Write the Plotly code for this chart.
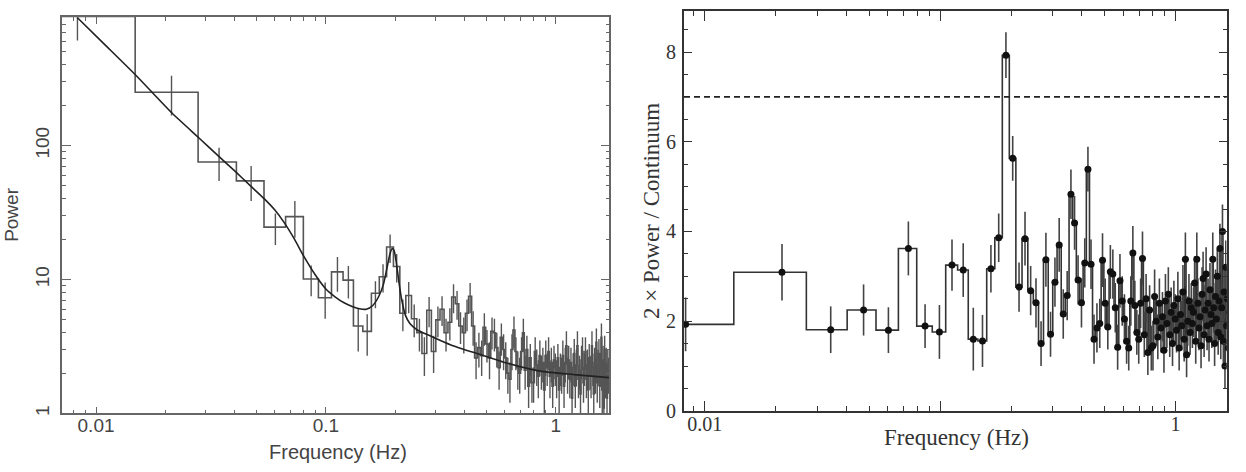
import numpy as np
import plotly.graph_objects as go

# ---------------- data ----------------
f0 = 0.0083      # first frequency bin centre (Hz)
df = 0.013       # frequency bin width (Hz)

power = [
    920, 250, 75.5, 54.5, 24.6, 29.5, 10.1, 7.3, 11.4, 9.9,
    4.5, 4.1, 7.9, 10.5, 17.5, 12.5, 5.6, 7.6, 5.1, 4.0,
    2.8, 5.9, 2.9, 5.0, 6.0, 4.0, 4.8, 7.4, 6.6, 4.5,
    4.0, 5.6, 7.5, 4.5, 2.6, 3.1,
    2.7, 4.4, 3.3, 2.6, 4.1, 4.0, 3.1, 2.2, 3.7, 3.0,
    2.6, 2.0, 1.8, 3.0, 4.2, 2.9, 2.2, 2.0, 2.9, 4.0,
    2.1, 3.0, 1.6, 2.6, 1.7, 1.7, 2.9, 2.3, 1.9, 2.7,
    2.1, 2.4, 1.5, 2.7, 2.2, 2.9, 1.9, 2.4, 1.6, 2.5,
    2.2, 1.9, 2.6, 1.5, 2.2, 2.0, 2.7, 1.6, 2.4, 3.2,
    2.0, 2.5, 1.8, 2.4, 1.3, 2.2, 2.8, 1.6, 2.3, 3.2,
    1.8, 2.1, 1.4, 2.5, 2.9, 1.7, 2.2, 2.9, 1.8, 2.3,
    1.5, 2.6, 2.1, 1.9, 3.2, 2.2, 1.4, 2.4, 2.0, 3.4,
    1.7, 2.3, 2.8, 1.6, 2.2, 3.7, 1.5, 2.5, 1.1, 3.0,
    1.8, 2.4, 1.3, 2.3, 2.0,
]
power_err = [
    310, 82, 21, 16, 6.5, 9, 2.6, 2.2, 3.3, 2.7,
    1.6, 1.4, 1.8, 2.5, 4.2, 3.0, 1.5, 2.0, 1.4, 1.1,
    0.9, 1.5, 0.9, 1.3, 1.5, 1.1, 1.3, 1.8, 1.6, 1.2,
    1.2, 1.5, 1.9, 1.3, 0.8, 0.9,
    0.8, 1.2, 0.9, 0.8, 1.1, 1.1, 0.9, 0.7, 1.0, 0.9,
    0.8, 0.6, 0.6, 0.9, 1.1, 0.8, 0.7, 0.6, 0.8, 1.1,
    0.6, 0.8, 0.5, 0.7, 0.5, 0.5, 0.8, 0.7, 0.6, 0.8,
    0.6, 0.7, 0.5, 0.8, 0.6, 0.8, 0.6, 0.7, 0.5, 0.7,
    0.6, 0.6, 0.7, 0.5, 0.6, 0.6, 0.8, 0.5, 0.7, 0.9,
    0.6, 0.7, 0.5, 0.7, 0.4, 0.6, 0.8, 0.5, 0.7, 0.9,
    0.5, 0.6, 0.4, 0.7, 0.8, 0.5, 0.6, 0.8, 0.5, 0.7,
    0.5, 0.7, 0.6, 0.6, 0.9, 0.6, 0.4, 0.7, 0.6, 0.9,
    0.5, 0.7, 0.8, 0.5, 0.6, 1.0, 0.5, 0.7, 0.4, 0.8,
    0.5, 0.7, 0.4, 0.7, 0.6,
]
ratio = [
    1.93, 3.09, 1.81, 2.25, 1.80, 3.62, 1.89, 1.76, 3.25, 3.14,
    1.60, 1.56, 3.17, 3.86, 7.93, 5.63, 2.76, 3.84, 2.68, 2.41,
    1.50, 3.37, 1.71, 2.87, 3.70, 2.16, 2.57, 4.83, 4.19, 2.92,
    2.41, 3.30, 5.39, 3.27, 1.60, 1.85,
    1.95, 3.36, 2.40, 1.87, 3.10, 3.05, 2.30, 1.42, 2.90, 2.45,
    2.05, 1.55, 1.40, 2.45, 3.52, 2.35, 1.75, 1.60, 2.40, 3.40,
    1.70, 2.50, 1.30, 2.25, 1.40, 1.45, 2.55, 2.00, 1.65, 2.40,
    1.85, 2.10, 1.35, 2.45, 1.95, 2.60, 1.70, 2.20, 1.50, 2.35,
    2.05, 1.80, 2.50, 1.40, 2.15, 1.90, 2.65, 1.60, 3.38, 1.25,
    2.00, 2.45, 1.75, 2.30, 1.95, 2.20, 2.85, 1.55, 3.38, 2.40,
    1.85, 2.10, 1.45, 2.60, 2.95, 1.70, 2.25, 3.05, 1.90, 2.40,
    1.60, 2.70, 2.15, 1.95, 3.38, 2.30, 1.50, 2.55, 2.05, 3.00,
    1.75, 2.45, 3.62, 1.65, 2.30, 4.00, 1.55, 2.65, 1.00, 3.20,
    1.90, 2.50, 1.40, 2.50, 2.20,
]
ratio_err = [
    0.60, 0.63, 0.52, 0.57, 0.51, 0.60, 0.49, 0.60, 0.57, 0.60,
    0.70, 0.58, 0.53, 0.54, 0.51, 0.50, 0.55, 0.60, 0.55, 0.55,
    0.50, 0.60, 0.50, 0.55, 0.60, 0.55, 0.55, 0.55, 0.60, 0.55,
    0.55, 0.55, 0.50, 0.55, 0.55, 0.55,
    0.55, 0.60, 0.55, 0.50, 0.60, 0.55, 0.55, 0.50, 0.60, 0.55,
    0.55, 0.50, 0.50, 0.55, 0.60, 0.55, 0.50, 0.55, 0.55, 0.60,
    0.50, 0.55, 0.50, 0.55, 0.50, 0.55, 0.60, 0.55, 0.50, 0.55,
    0.55, 0.55, 0.50, 0.60, 0.55, 0.60, 0.50, 0.55, 0.50, 0.55,
    0.55, 0.50, 0.60, 0.50, 0.55, 0.55, 0.60, 0.50, 0.60, 0.50,
    0.55, 0.60, 0.50, 0.55, 0.55, 0.55, 0.60, 0.50, 0.60, 0.55,
    0.50, 0.55, 0.50, 0.60, 0.60, 0.50, 0.55, 0.60, 0.55, 0.55,
    0.50, 0.60, 0.55, 0.55, 0.60, 0.55, 0.50, 0.60, 0.55, 0.60,
    0.50, 0.55, 0.55, 0.50, 0.55, 0.60, 0.50, 0.60, 0.50, 0.60,
    0.55, 0.60, 0.50, 0.55, 0.55,
]
model_freq = [0.0083, 0.011, 0.0149, 0.0214, 0.0279, 0.0345, 0.04, 0.047, 0.054,
              0.06, 0.066, 0.073, 0.08, 0.09, 0.1, 0.11, 0.12, 0.13, 0.14,
              0.15, 0.16, 0.17, 0.178, 0.185, 0.19, 0.194, 0.198, 0.203,
              0.208, 0.214, 0.222, 0.232, 0.25, 0.284, 0.35, 0.47, 0.6,
              0.855, 1.2, 1.71]
model_power = [900, 560, 335, 175, 115, 82, 65, 50, 40,
               33, 26.5, 20, 15, 10.8, 8.5, 7.4, 6.7, 6.3, 6.05,
               6.0, 6.4, 7.5, 9.2, 12.5, 15.5, 17, 16.5, 13,
               9.5, 7, 5.4, 4.7, 4.2, 3.8, 3.25, 2.75, 2.4,
               2.07, 1.95, 1.85]
threshold = 7.0

left_xticks = [0.01, 0.1, 1]
left_xticktext = ["0.01", "0.1", "1"]
left_yticks = [1, 10, 100]
right_xticks = [0.01, 0.1, 1]
right_xticktext = ["0.01", "", "1"]
right_yticks = [0, 2, 4, 6, 8]

# ---------------- derived ----------------
freq = f0 + df * np.arange(len(power))
lo = freq - df / 2
hi = freq + df / 2
step_x = np.column_stack([lo, hi]).ravel()
step_p = np.repeat(np.asarray(power, float), 2)

minor_log = [m * 10.0 ** e for e in range(-3, 3) for m in range(2, 10)]

W, H = 1246, 472
def px(x):
    return x / W
def py(y):
    return 1 - y / H

fig = go.Figure()
GL = "#555555"
GR = "#333333"

# left panel
fig.add_trace(go.Scatter(x=step_x, y=step_p, mode="lines",
                         line=dict(color=GL, width=1.6), xaxis="x", yaxis="y",
                         hoverinfo="skip"))
fig.add_trace(go.Scatter(x=freq, y=power, mode="markers",
                         marker=dict(size=1, color=GL),
                         error_y=dict(type="data", array=power_err, visible=True,
                                      thickness=1.4, width=0, color=GL),
                         xaxis="x", yaxis="y"))
fig.add_trace(go.Scatter(x=model_freq, y=model_power, mode="lines",
                         line=dict(color="#222222", width=1.6, shape="spline", smoothing=0.6),
                         xaxis="x", yaxis="y"))

# right panel (steps drawn half-way between points in log space)
fig.add_trace(go.Scatter(x=freq, y=ratio, mode="lines",
                         line=dict(color=GR, width=1.6, shape="hvh"),
                         xaxis="x2", yaxis="y2", hoverinfo="skip"))
fig.add_trace(go.Scatter(x=freq, y=ratio, mode="markers",
                         marker=dict(size=7, color="#111111"),
                         error_y=dict(type="data", array=ratio_err, visible=True,
                                      thickness=1.6, width=0, color="#444444"),
                         xaxis="x2", yaxis="y2"))

fig.add_shape(type="line", xref="x2 domain", yref="y2", x0=0, x1=1,
              y0=threshold, y1=threshold,
              line=dict(color="#222222", width=1.6, dash="6px,4px"))

sans = dict(family="Liberation Sans, Arial, sans-serif", size=19, color="#444444")
serif = dict(family="Liberation Serif, Times New Roman, serif", size=20, color="#333333")

common_l = dict(showline=True, linecolor="#666666", linewidth=1.5, mirror="allticks",
                ticks="inside", tickcolor="#666666", tickwidth=1.3, showgrid=False,
                zeroline=False, tickfont=sans)
common_r = dict(showline=True, linecolor="#333333", linewidth=2, mirror="allticks",
                ticks="inside", tickcolor="#333333", tickwidth=1.4, showgrid=False,
                zeroline=False, tickfont=serif)

fig.update_layout(
    width=W, height=H, margin=dict(l=0, r=0, t=0, b=0),
    paper_bgcolor="white", plot_bgcolor="white", showlegend=False,
    xaxis=dict(type="log", range=[np.log10(0.00711), np.log10(1.711)],
               domain=[px(62), px(609.3)], anchor="y",
               tickvals=left_xticks, ticktext=left_xticktext, ticklen=7,
               ticklabelstandoff=-6,
               minor=dict(tickvals=minor_log, ticklen=4, ticks="inside",
                          tickcolor="#666666", tickwidth=1.2),
               **common_l),
    yaxis=dict(type="log", range=[0, 2.961],
               domain=[py(423.3), py(17.3)], anchor="x",
               tickvals=left_yticks, ticklen=9, tickangle=-90,
               ticklabelstandoff=4,
               minor=dict(tickvals=minor_log, ticklen=4, ticks="inside",
                          tickcolor="#666666", tickwidth=1.2),
               **common_l),
    xaxis2=dict(type="log", range=[np.log10(0.00817), np.log10(1.648)],
                domain=[px(684), px(1226.7)], anchor="y2",
                tickvals=right_xticks, ticktext=right_xticktext, ticklen=10,
                ticklabelstandoff=-6,
                minor=dict(tickvals=minor_log, ticklen=5, ticks="inside",
                           tickcolor="#333333", tickwidth=1.2),
                **common_r),
    yaxis2=dict(range=[0, 8.906], domain=[py(420.7), py(11.7)], anchor="x2",
                tickvals=right_yticks, ticklen=8, ticklabelstandoff=2,
                minor=dict(dtick=0.5, ticklen=4, ticks="inside",
                           tickcolor="#333333", tickwidth=1.2),
                **common_r),
)

fig.add_annotation(text="Frequency (Hz)", x=px(338), y=py(463), xref="paper", yref="paper",
                   showarrow=False, font=dict(family=sans["family"], size=20, color="#444444"),
                   xanchor="center", yanchor="middle")
fig.add_annotation(text="Power", x=px(12), y=py(220), xref="paper", yref="paper",
                   showarrow=False, textangle=-90,
                   font=dict(family=sans["family"], size=19, color="#444444"),
                   xanchor="center", yanchor="middle")
fig.add_annotation(text="Frequency (Hz)", x=px(956), y=py(448), xref="paper", yref="paper",
                   showarrow=False, font=dict(family=serif["family"], size=23, color="#333333"),
                   xanchor="center", yanchor="middle")
fig.add_annotation(text="2 × Power / Continuum", x=px(652), y=py(216), xref="paper", yref="paper",
                   showarrow=False, textangle=-90,
                   font=dict(family=serif["family"], size=23, color="#333333"),
                   xanchor="center", yanchor="middle")

fig.write_html("out.html")
